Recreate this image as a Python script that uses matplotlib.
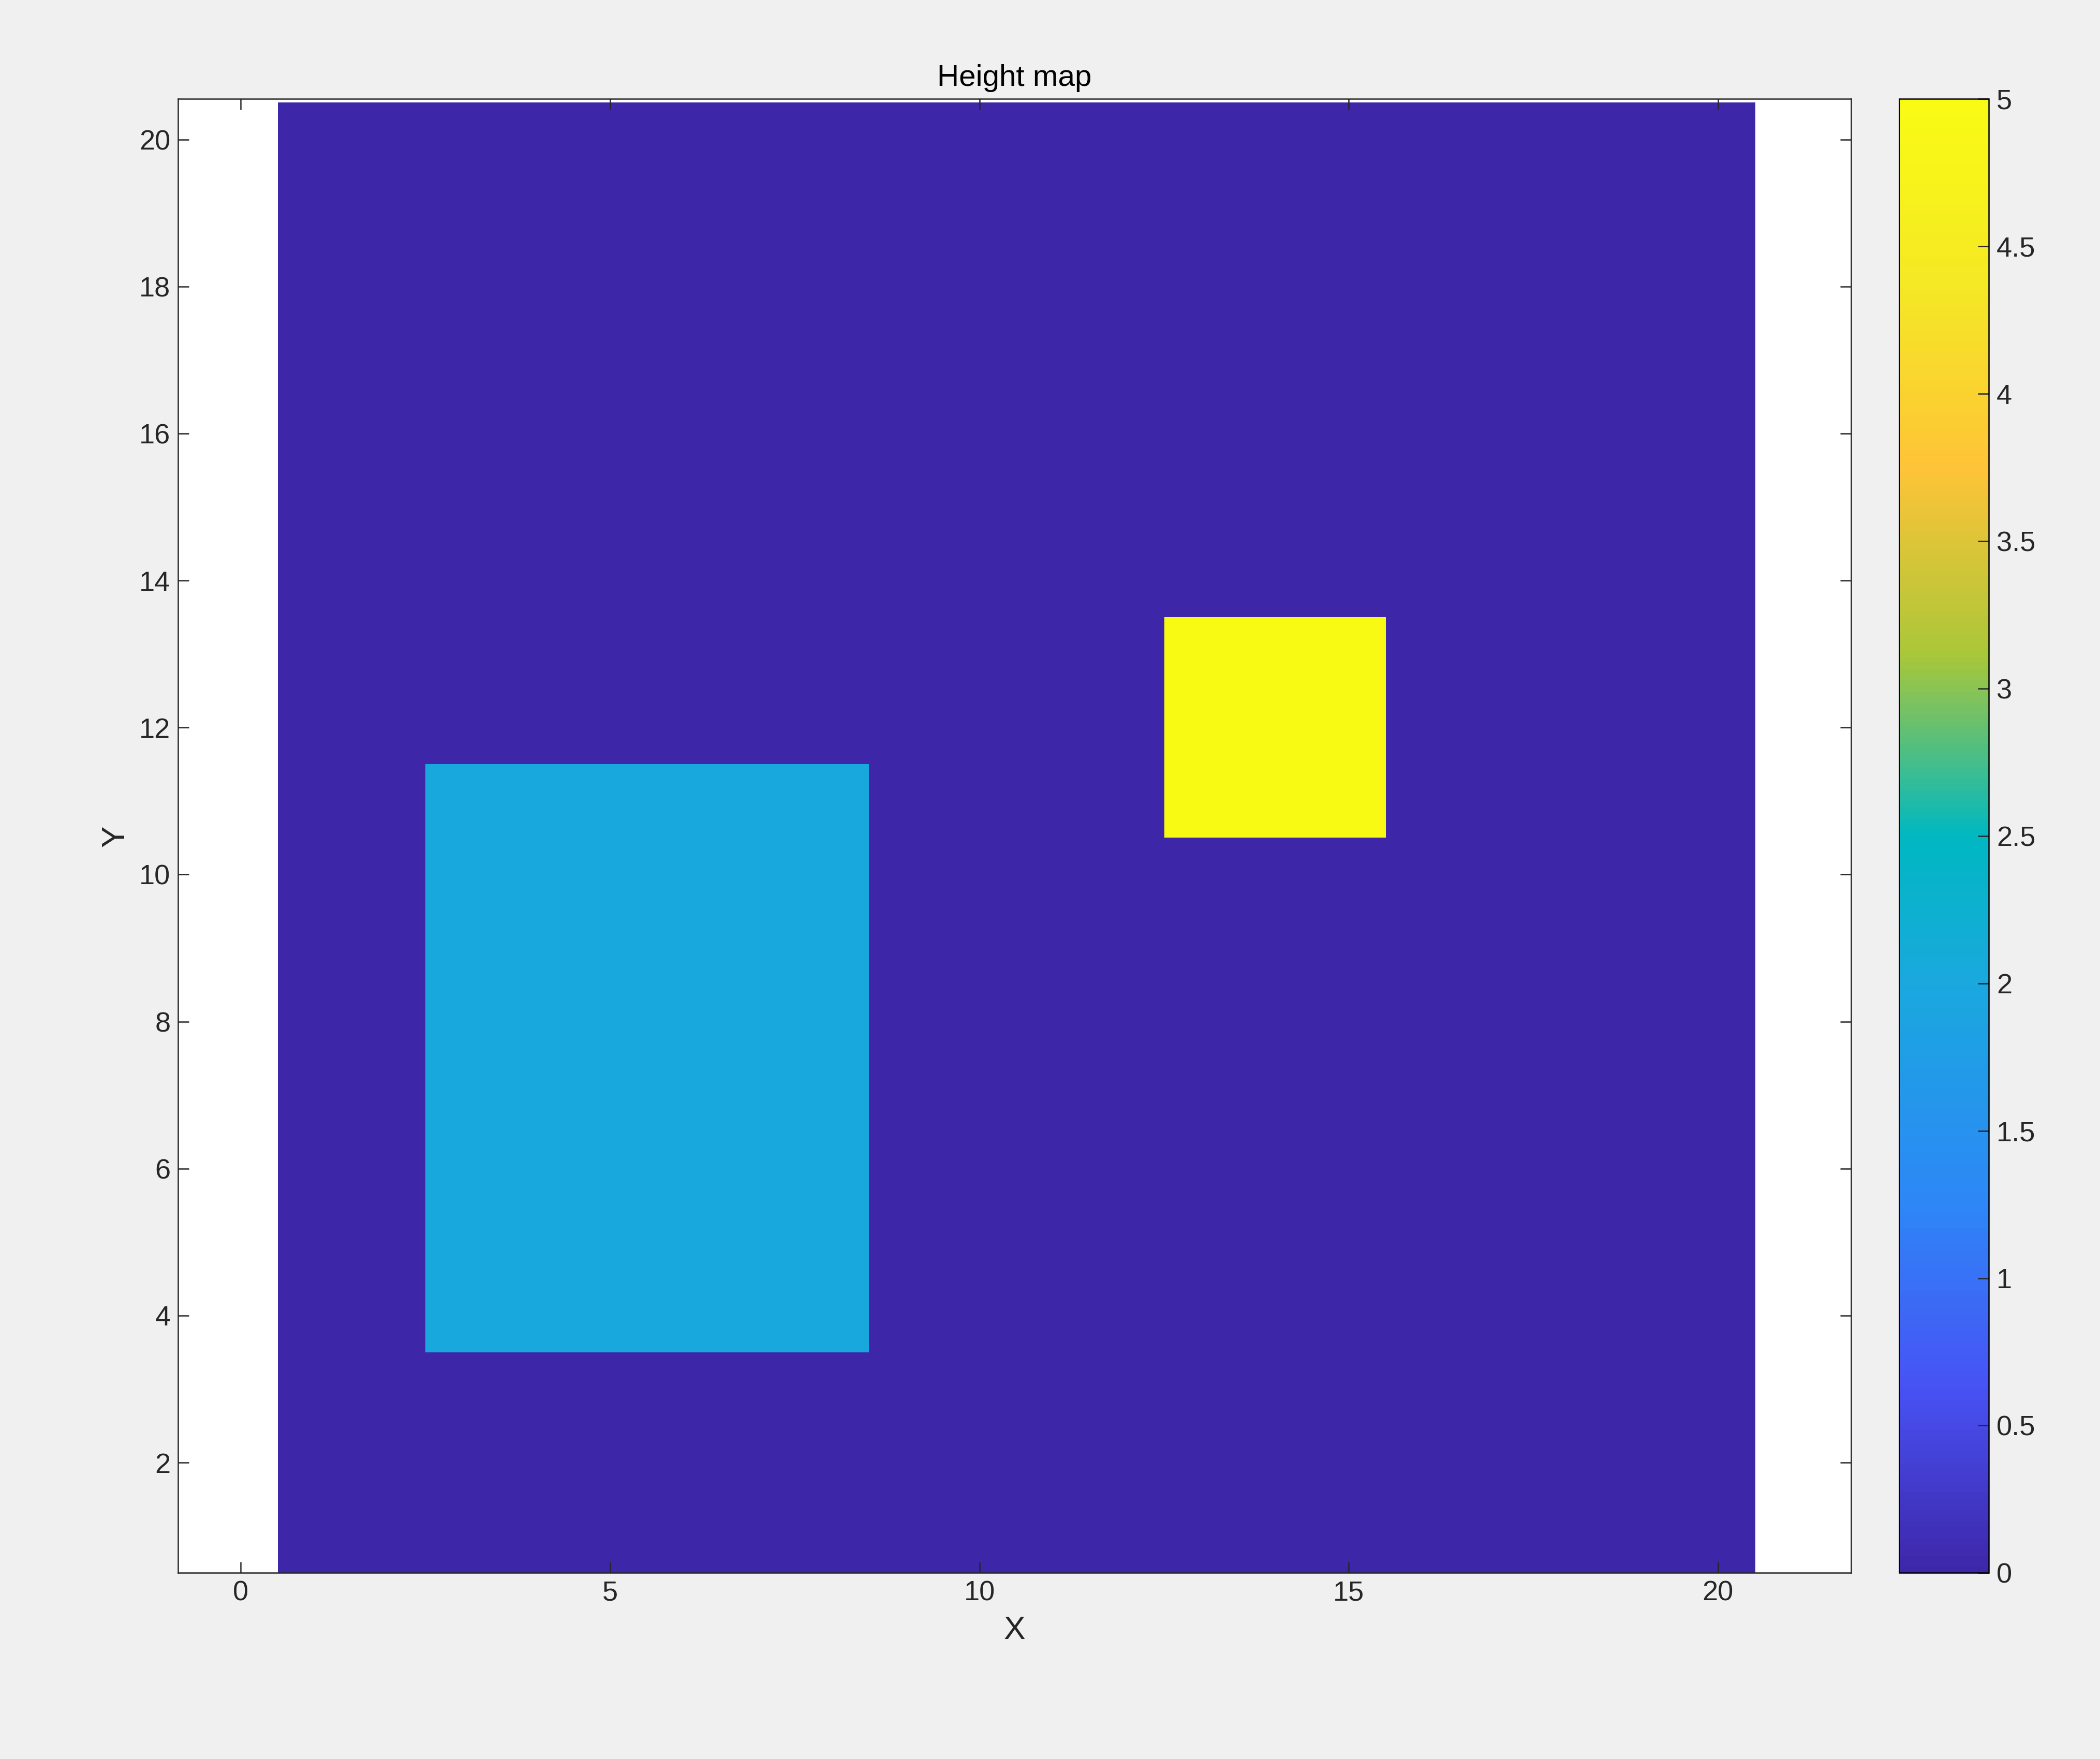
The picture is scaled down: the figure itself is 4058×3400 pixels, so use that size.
import numpy as np
import matplotlib
matplotlib.use("Agg")
import matplotlib.pyplot as plt
from matplotlib.colors import LinearSegmentedColormap

# Data: 20x20 height grid
nx, ny = 20, 20
base_height = 0
blocks = [  # (x0, x1, y0, y1, height) inclusive cell indices (1-based)
    (3, 8, 4, 11, 2),
    (13, 15, 11, 13, 5),
]
Z = np.full((ny, nx), base_height, dtype=float)
for x0, x1, y0, y1, h in blocks:
    Z[y0-1:y1, x0-1:x1] = h

parula_pos = [0.0, 0.125, 0.25, 0.4, 0.5, 0.625, 0.75, 0.875, 1.0]
parula_rgb = [(0.2422, 0.1504, 0.6603), (0.2810, 0.3228, 0.9579),
              (0.1786, 0.5289, 0.9682), (0.10, 0.66, 0.87),
              (0.0, 0.72, 0.76), (0.6720, 0.7793, 0.2227),
              (0.9970, 0.7659, 0.2199), (0.9598, 0.9106, 0.1414),
              (0.9769, 0.9839, 0.0805)]
parula = LinearSegmentedColormap.from_list("parula", list(zip(parula_pos, parula_rgb)))

plt.rcParams['font.family'] = ['Liberation Sans', 'DejaVu Sans']
fig = plt.figure(figsize=(4058/300, 3400/300), dpi=300, facecolor='#f0f0f0')
ax = fig.add_axes([0.0848, 0.1058, 0.7966, 0.8379])
im = ax.imshow(Z, cmap=parula, vmin=0, vmax=5, origin='lower',
               extent=[0.5, nx+0.5, 0.5, ny+0.5], aspect='auto', interpolation='nearest')
ax.set_xlim(-0.85, 21.8)
ax.set_ylim(0.5, 20.55)
ax.set_xticks([0, 5, 10, 15, 20])
ax.set_yticks(range(2, 21, 2))
ax.tick_params(direction='in', top=True, right=True, labelsize=13, colors='#262626', length=5, width=0.6)
for s in ax.spines.values():
    s.set_linewidth(0.6); s.set_color('#262626')
ax.set_xlabel('X', fontsize=15, color='#262626')
ax.set_ylabel('Y', fontsize=15, color='#262626')
ax.set_title('Height map', fontsize=14, color='black', pad=6)

cax = fig.add_axes([0.9043, 0.1058, 0.0428, 0.8379])
cb = fig.colorbar(im, cax=cax, ticks=np.arange(0, 5.01, 0.5))
cb.ax.set_yticklabels(['0', '0.5', '1', '1.5', '2', '2.5', '3', '3.5', '4', '4.5', '5'])
cb.ax.tick_params(direction='in', labelsize=13, colors='#262626', length=5, width=0.6)
cb.outline.set_linewidth(0.6)
fig.savefig('out.png', dpi=300, facecolor=fig.get_facecolor())
